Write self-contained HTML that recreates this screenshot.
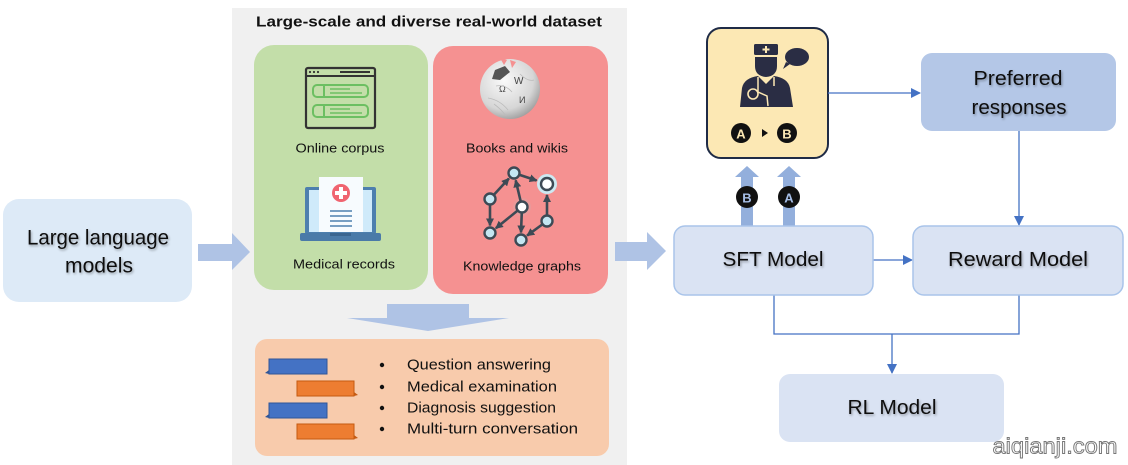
<!DOCTYPE html>
<html><head><meta charset="utf-8"><style>
html,body{margin:0;padding:0;background:#fff;}
svg{display:block;}
text{font-family:"Liberation Sans",sans-serif;}
</style></head><body>
<svg width="1128" height="465" viewBox="0 0 1128 465" xmlns="http://www.w3.org/2000/svg">
<defs>
<marker id="ah" markerWidth="10" markerHeight="10" refX="9" refY="5" orient="auto" markerUnits="userSpaceOnUse">
<path d="M0,0 L10,5 L0,10 z" fill="#4472c4"/>
</marker>
<marker id="kg" markerWidth="8" markerHeight="8" refX="7" refY="4" orient="auto" markerUnits="userSpaceOnUse">
<path d="M0,0 L8,4 L0,8 z" fill="#3d4a55"/>
</marker>
<filter id="ts" x="-10%" y="-30%" width="120%" height="160%"><feGaussianBlur in="SourceAlpha" stdDeviation="1.2"/><feOffset dx="1" dy="1.5"/><feComponentTransfer><feFuncA type="linear" slope="0.35"/></feComponentTransfer><feMerge><feMergeNode/><feMergeNode in="SourceGraphic"/></feMerge></filter>
<radialGradient id="gl" cx="0.4" cy="0.35" r="0.7"><stop offset="0" stop-color="#fafafa"/><stop offset="0.7" stop-color="#d6d6d6"/><stop offset="1" stop-color="#9a9a9a"/></radialGradient>
</defs>

<!-- LLM box -->
<rect x="3" y="199" width="189" height="103" rx="16" fill="#ddeaf7"/>
<text x="98" y="238" font-size="21" text-anchor="middle" dominant-baseline="central" textLength="142" lengthAdjust="spacingAndGlyphs" fill="#111" filter="url(#ts)">Large language</text>
<text x="99" y="266" font-size="21" text-anchor="middle" dominant-baseline="central" textLength="68" lengthAdjust="spacingAndGlyphs" fill="#111" filter="url(#ts)">models</text>

<!-- gray panel -->
<rect x="232" y="8" width="395" height="457" fill="#f0f0f0"/>

<!-- arrow left -->
<path d="M198,244 L232,244 L232,233 L250,252 L232,270 L232,261 L198,261 z" fill="#afc3e5"/>

<!-- title -->
<text x="429" y="22" font-size="15" font-weight="bold" text-anchor="middle" dominant-baseline="central" textLength="346" lengthAdjust="spacingAndGlyphs" fill="#111">Large-scale and diverse real-world dataset</text>

<!-- green box -->
<rect x="254" y="45" width="174" height="245" rx="20" fill="#c3dea9"/>
<!-- red box -->
<rect x="433" y="46" width="175" height="248" rx="20" fill="#f59191"/>

<!-- browser icon -->
<rect x="306" y="68" width="69" height="60" rx="2" fill="none" stroke="#333" stroke-width="2.2"/>
<line x1="306" y1="76" x2="375" y2="76" stroke="#333" stroke-width="2"/>
<circle cx="310" cy="72" r="1.1" fill="#333"/><circle cx="314" cy="72" r="1.1" fill="#333"/><circle cx="318" cy="72" r="1.1" fill="#333"/>
<line x1="340" y1="72" x2="370" y2="72" stroke="#333" stroke-width="2"/>
<rect x="313" y="85" width="55" height="12" rx="4" fill="none" stroke="#6cbf62" stroke-width="2"/>
<line x1="324" y1="85" x2="324" y2="97" stroke="#6cbf62" stroke-width="2"/>
<line x1="330" y1="89" x2="350" y2="89" stroke="#6cbf62" stroke-width="1.5"/>
<line x1="330" y1="93" x2="362" y2="93" stroke="#6cbf62" stroke-width="1.5"/>
<rect x="313" y="105" width="55" height="12" rx="4" fill="none" stroke="#6cbf62" stroke-width="2"/>
<line x1="324" y1="105" x2="324" y2="117" stroke="#6cbf62" stroke-width="2"/>
<line x1="330" y1="109" x2="350" y2="109" stroke="#6cbf62" stroke-width="1.5"/>
<line x1="330" y1="113" x2="362" y2="113" stroke="#6cbf62" stroke-width="1.5"/>
<text x="340" y="148" font-size="13" text-anchor="middle" dominant-baseline="central" textLength="89" lengthAdjust="spacingAndGlyphs" fill="#111">Online corpus</text>

<!-- medical records icon -->
<rect x="305" y="187" width="71" height="47" rx="2" fill="#4d7fae"/>
<rect x="309" y="190" width="63" height="42" fill="#cfeafa"/>
<rect x="300" y="233" width="81" height="8" rx="2" fill="#4a7aa8"/>
<rect x="330" y="233" width="21" height="3" fill="#3a6590"/>
<rect x="319" y="177" width="44" height="55" fill="#f7fbfe"/>
<circle cx="341" cy="193" r="9" fill="#f06470"/>
<rect x="339" y="187" width="4" height="12" fill="#fff"/>
<rect x="335" y="191" width="12" height="4" fill="#fff"/>
<line x1="330" y1="211" x2="352" y2="211" stroke="#4d7fae" stroke-width="1.6"/>
<line x1="330" y1="216" x2="352" y2="216" stroke="#4d7fae" stroke-width="1.6"/>
<line x1="330" y1="221" x2="352" y2="221" stroke="#4d7fae" stroke-width="1.6"/>
<line x1="330" y1="226" x2="352" y2="226" stroke="#4d7fae" stroke-width="1.6"/>
<text x="344" y="264" font-size="13" text-anchor="middle" dominant-baseline="central" textLength="102" lengthAdjust="spacingAndGlyphs" fill="#111">Medical records</text>

<!-- wiki globe -->
<circle cx="510" cy="89" r="30" fill="url(#gl)"/>
<path d="M495,70 L505,66 L510,72 L500,80 L492,79 z" fill="#555"/>
<path d="M510,60 L516,62 L512,68 z" fill="#f59191"/>
<path d="M500,58 L507,60 L504,65 z" fill="#f59191"/>
<text x="499" y="92" font-size="9" font-family="Liberation Serif" fill="#444">Ω</text>
<text x="514" y="84" font-size="10" font-family="Liberation Serif" fill="#444">W</text>
<text x="519" y="103" font-size="9" font-family="Liberation Serif" fill="#444">И</text>
<path d="M496,86 Q505,84 512,92 M488,98 Q500,100 508,110 M520,74 Q528,82 534,80 M494,104 Q502,110 506,116" fill="none" stroke="#bbb" stroke-width="0.8"/>
<text x="517" y="148" font-size="13" text-anchor="middle" dominant-baseline="central" textLength="102" lengthAdjust="spacingAndGlyphs" fill="#111">Books and wikis</text>

<!-- knowledge graph -->
<circle cx="547" cy="184" r="10" fill="#cde9f2"/>
<circle cx="522" cy="207" r="9" fill="#e99a9a"/>
<g stroke="#3d4a55" stroke-width="2.6" fill="none" marker-end="url(#kg)">
<line x1="490" y1="199" x2="508.9" y2="178.5"/>
<line x1="514" y1="173" x2="536.6" y2="180.5"/>
<line x1="490" y1="199" x2="490" y2="225.5"/>
<line x1="522" y1="207" x2="515.7" y2="180.3"/>
<line x1="522" y1="207" x2="495.8" y2="228.3"/>
<line x1="522" y1="207" x2="521" y2="232.5"/>
<line x1="547" y1="221" x2="547" y2="195"/>
<line x1="547" y1="221" x2="527.1" y2="235.6"/>
</g>
<g stroke="#3d4a55" stroke-width="2.4">
<circle cx="514" cy="173" r="5.5" fill="#c4e6f2"/>
<circle cx="547" cy="184" r="6" fill="#fff"/>
<circle cx="490" cy="199" r="5.5" fill="#c4e6f2"/>
<circle cx="522" cy="207" r="5.5" fill="#fff"/>
<circle cx="547" cy="221" r="5.5" fill="#c4e6f2"/>
<circle cx="490" cy="233" r="5.5" fill="#c4e6f2"/>
<circle cx="521" cy="240" r="5.5" fill="#c4e6f2"/>
</g>
<text x="522" y="266" font-size="13" text-anchor="middle" dominant-baseline="central" textLength="118" lengthAdjust="spacingAndGlyphs" fill="#111">Knowledge graphs</text>

<!-- down arrow -->
<path d="M387,304 L469,304 L469,318 L509,318 L428,331 L347,318 L387,318 z" fill="#afc3e5"/>

<!-- orange box -->
<rect x="255" y="339" width="354" height="117" rx="12" fill="#f8cbac"/>
<!-- chat bubbles -->
<g>
<rect x="269" y="359" width="58" height="15" fill="#4472c4" stroke="#2f5597" stroke-width="1"/>
<path d="M269,370 L265,373 L269,374 z" fill="#2f5597"/>
<rect x="297" y="381" width="57" height="15" fill="#ed7d31" stroke="#c55a11" stroke-width="1"/>
<path d="M354,392 L358,395 L354,396 z" fill="#c55a11"/>
<rect x="269" y="403" width="58" height="15" fill="#4472c4" stroke="#2f5597" stroke-width="1"/>
<path d="M269,414 L265,417 L269,418 z" fill="#2f5597"/>
<rect x="297" y="424" width="57" height="15" fill="#ed7d31" stroke="#c55a11" stroke-width="1"/>
<path d="M354,435 L358,438 L354,439 z" fill="#c55a11"/>
</g>
<g fill="#111">
<circle cx="382" cy="365" r="2.2"/><circle cx="382" cy="387" r="2.2"/><circle cx="382" cy="408" r="2.2"/><circle cx="382" cy="429" r="2.2"/>
</g>
<g font-size="15" fill="#111" dominant-baseline="central">
<text x="407" y="365" textLength="144" lengthAdjust="spacingAndGlyphs">Question answering</text>
<text x="407" y="387" textLength="150" lengthAdjust="spacingAndGlyphs">Medical examination</text>
<text x="407" y="408" textLength="149" lengthAdjust="spacingAndGlyphs">Diagnosis suggestion</text>
<text x="407" y="429" textLength="171" lengthAdjust="spacingAndGlyphs">Multi-turn conversation</text>
</g>

<!-- arrow to SFT -->
<path d="M615,242 L647,242 L647,232 L666,251 L647,270 L647,261 L615,261 z" fill="#afc3e5"/>

<!-- doctor box -->
<rect x="707" y="28" width="121" height="130" rx="14" fill="#fce8b4" stroke="#1f2b46" stroke-width="2"/>
<g fill="#2a2d44">
<rect x="754" y="44" width="24" height="11" rx="1.5"/>
<path d="M755,57 L777,57 L777,66 Q777,76 766,77 Q755,76 755,66 z"/>
<path d="M740,107 L742,88 Q744,78 758,76 L766,84 L774,76 Q788,78 790,88 L793,107 z"/>
<ellipse cx="797" cy="57" rx="12" ry="9"/>
<path d="M786,62 L783,69 L790,64 z"/>
</g>
<rect x="765" y="46" width="2" height="7" fill="#fce8b4"/>
<rect x="762.5" y="48.5" width="7" height="2" fill="#fce8b4"/>
<path d="M758,77 L758,92 L767,96 L768,106" stroke="#fce8b4" stroke-width="1.5" fill="none"/>
<path d="M774,77 L774,86" stroke="#fce8b4" stroke-width="1.5" fill="none"/>
<circle cx="753" cy="94" r="5" fill="none" stroke="#fce8b4" stroke-width="1.6"/>
<circle cx="741" cy="133" r="10" fill="#111"/>
<text x="741" y="134" font-size="13" font-weight="bold" text-anchor="middle" dominant-baseline="central" fill="#fce8b4">A</text>
<path d="M762,129 L768,133 L762,137 z" fill="#111"/>
<circle cx="787" cy="133" r="10" fill="#111"/>
<text x="787" y="134" font-size="13" font-weight="bold" text-anchor="middle" dominant-baseline="central" fill="#fce8b4">B</text>

<!-- up arrows -->
<path d="M741,226 L741,177 L735,177 L747,166 L759,177 L753,177 L753,226 z" fill="#93afdc"/>
<path d="M783,226 L783,177 L777,177 L789,166 L801,177 L795,177 L795,226 z" fill="#93afdc"/>
<circle cx="747" cy="197" r="11" fill="#111"/>
<text x="747" y="198" font-size="13" font-weight="bold" text-anchor="middle" dominant-baseline="central" fill="#a7bfe8">B</text>
<circle cx="789" cy="197" r="11" fill="#111"/>
<text x="789" y="198" font-size="13" font-weight="bold" text-anchor="middle" dominant-baseline="central" fill="#a7bfe8">A</text>

<!-- preferred responses -->
<rect x="921" y="53" width="195" height="78" rx="11" fill="#b4c7e7"/>
<text x="1018" y="79" font-size="20" text-anchor="middle" dominant-baseline="central" textLength="89" lengthAdjust="spacingAndGlyphs" fill="#111" filter="url(#ts)">Preferred</text>
<text x="1019" y="108" font-size="20" text-anchor="middle" dominant-baseline="central" textLength="95" lengthAdjust="spacingAndGlyphs" fill="#111" filter="url(#ts)">responses</text>

<!-- connectors -->
<line x1="828" y1="93" x2="920" y2="93" stroke="#4472c4" stroke-width="1.3" marker-end="url(#ah)"/>
<line x1="1019" y1="131" x2="1019" y2="225" stroke="#4472c4" stroke-width="1.3" marker-end="url(#ah)"/>
<line x1="873" y1="260" x2="912" y2="260" stroke="#4472c4" stroke-width="1.3" marker-end="url(#ah)"/>
<polyline points="774,295 774,334 1019,334 1019,295" fill="none" stroke="#4472c4" stroke-width="1.3"/>
<line x1="892" y1="334" x2="892" y2="373" stroke="#4472c4" stroke-width="1.3" marker-end="url(#ah)"/>

<!-- SFT model -->
<rect x="674" y="226" width="199" height="69" rx="11" fill="#dae3f3" stroke="#a9c4ea" stroke-width="1.5"/>
<text x="773" y="260" font-size="20" text-anchor="middle" dominant-baseline="central" textLength="101" lengthAdjust="spacingAndGlyphs" fill="#111" filter="url(#ts)">SFT Model</text>

<!-- Reward model -->
<rect x="913" y="226" width="210" height="69" rx="11" fill="#dae3f3" stroke="#a9c4ea" stroke-width="1.5"/>
<text x="1018" y="260" font-size="20" text-anchor="middle" dominant-baseline="central" textLength="140" lengthAdjust="spacingAndGlyphs" fill="#111" filter="url(#ts)">Reward Model</text>

<!-- RL model -->
<rect x="779" y="374" width="225" height="68" rx="11" fill="#dae3f3"/>
<text x="892" y="408" font-size="20" text-anchor="middle" dominant-baseline="central" textLength="89" lengthAdjust="spacingAndGlyphs" fill="#111" filter="url(#ts)">RL Model</text>

<!-- watermark -->
<text x="1055" y="446" font-size="22" text-anchor="middle" dominant-baseline="central" textLength="125" lengthAdjust="spacingAndGlyphs" fill="#fff" stroke="#777" stroke-width="0.9">aiqianji.com</text>
</svg>
</body></html>
